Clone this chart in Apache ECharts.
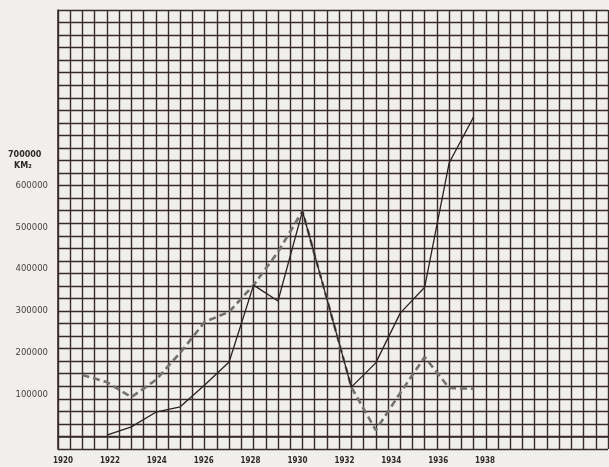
<!DOCTYPE html>
<html><head><meta charset="utf-8">
<script src="https://cdn.jsdelivr.net/npm/echarts@6/dist/echarts.min.js"></script>
<style>html,body{margin:0;padding:0;background:#f1efeb}#c{width:609px;height:467px}</style>
</head><body><div id="c"></div>
<script>
const years = [1920,1921,1922,1923,1924,1925,1926,1927,1928,1929,1930,1931,1932,1933,1934,1935,1936,1937];
const seriesDashed = [null,147000,130000,94000,135000,200000,274000,298000,362000,441000,539000,329000,118000,15000,104000,190000,116000,114000];
const seriesSolid  = [null,null,3000,23000,58000,71000,123000,178000,362000,324000,539000,329000,118000,176000,295000,357000,654000,764000];
const yearLabels = [1920,1922,1924,1926,1928,1930,1932,1934,1936,1938];
const valueLabels = [100000,200000,300000,400000,500000,600000];
const unitLabel = ['700000','KM\u2082'];

const pairs = arr => years.map((y,i)=>[y,arr[i]]);
const gridColor = '#3a2b2b';
const chart = echarts.init(document.getElementById('c'));
chart.setOption({
  backgroundColor:'#f1efeb',
  animation:false,
  grid:{left:58,top:10,right:1,bottom:18},
  xAxis:[{
    type:'value',min:1920,max:1942.5,interval:0.5,
    axisLine:{show:true,lineStyle:{color:gridColor,width:1.6}},
    axisTick:{show:false},axisLabel:{show:false},
    splitLine:{show:true,lineStyle:{color:gridColor,width:1.4}}
  },{
    // the printed year labels are spaced slightly tighter than the plotted years
    type:'value',min:1919.787,max:1943.24,position:'bottom',
    axisLine:{show:false},axisTick:{show:false},splitLine:{show:false},
    axisLabel:{show:true,customValues:yearLabels,margin:8,fontSize:8,fontWeight:'bold',
      fontFamily:'DejaVu Sans Condensed',color:'#2f2828',formatter:v=>String(v)}
  }],
  yAxis:[{
    type:'value',min:-30000,max:1020000,interval:30000,
    axisLine:{show:true,lineStyle:{color:gridColor,width:1.6}},
    axisTick:{show:false},axisLabel:{show:false},
    splitLine:{show:true,lineStyle:{color:gridColor,width:1.4}}
  },{
    type:'value',min:-30000,max:1020000,position:'left',
    axisLine:{show:false},axisTick:{show:false},splitLine:{show:false},
    axisLabel:{show:true,customValues:valueLabels,margin:10,fontSize:8.5,
      fontFamily:'DejaVu Sans',color:'#4a4242',formatter:v=>String(v)}
  }],
  graphic:[
    {type:'text',left:8,top:151,style:{text:unitLabel[0],font:'bold 8px "DejaVu Sans"',fill:'#2f2828'}},
    {type:'text',left:14,top:162,style:{text:unitLabel[1],font:'bold 8px "DejaVu Sans"',fill:'#2f2828'}}
  ],
  series:[
    {type:'line',data:pairs(seriesDashed),xAxisIndex:0,yAxisIndex:0,showSymbol:false,connectNulls:false,
      lineStyle:{color:'#747070',width:2.6,type:[7,4]},z:3},
    {type:'line',data:pairs(seriesSolid),xAxisIndex:0,yAxisIndex:0,showSymbol:false,connectNulls:false,
      lineStyle:{color:'#2a2020',width:1.3},z:4}
  ]
});
</script></body></html>
